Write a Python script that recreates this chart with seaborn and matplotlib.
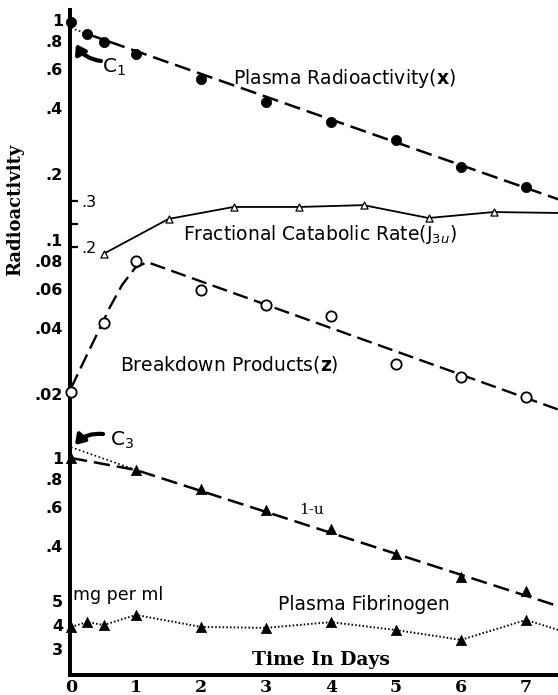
import numpy as np
import pandas as pd
import matplotlib
matplotlib.use("Agg")
import matplotlib.pyplot as plt
from matplotlib.ticker import NullLocator, FixedLocator, FixedFormatter
import seaborn as sns

# ---------------- data ----------------
plasma_days = [0, 0.25, 0.5, 1, 2, 3, 4, 5, 6, 7]
plasma_x = [0.979, 0.864, 0.794, 0.700, 0.539, 0.424, 0.344, 0.285, 0.215, 0.174]
plasma_fit_days = [0.25, 7.5]
plasma_fit = [0.864, 0.153]
c1_days = [0, 0.25]
c1_vals = [0.92, 0.864]

bd_days = [0, 0.5, 1, 2, 3, 4, 5, 6, 7]
bd_z = [0.0204, 0.042, 0.080, 0.0593, 0.0507, 0.045, 0.0273, 0.0238, 0.0193]
bd_curve_days = [0, 0.185, 0.446, 0.6, 0.785, 0.985, 1.17, 7.5]
bd_curve = [0.0212, 0.0276, 0.0398, 0.0496, 0.0624, 0.0746, 0.0794, 0.01694]

fcr_days = [0.5, 1.5, 2.5, 3.5, 4.5, 5.5, 6.5]
fcr = [0.185, 0.261, 0.287, 0.287, 0.291, 0.263, 0.276]
fcr_line_days = [0.5, 1.5, 2.5, 3.5, 4.5, 5.5, 6.5, 7.5]
fcr_line = [0.185, 0.261, 0.287, 0.287, 0.291, 0.263, 0.276, 0.274]

u_days = [0, 1, 2, 3, 4, 5, 6, 7]
one_minus_u = [1.0, 0.882, 0.723, 0.58, 0.475, 0.366, 0.288, 0.248]
u_fit_days = [0, 1, 7.5]
u_fit = [1.0, 0.882, 0.212]
c3_days = [0, 1]
c3_vals = [1.12, 0.882]

fib_days = [0, 0.25, 0.5, 1, 2, 3, 4, 5, 6, 7]
fib = [3.92, 4.12, 4.0, 4.42, 3.92, 3.88, 4.12, 3.79, 3.38, 4.21]
fib_line_days = [0, 0.25, 0.5, 1, 2, 3, 4, 5, 6, 7, 7.5]
fib_line = [3.92, 4.12, 4.0, 4.42, 3.92, 3.88, 4.12, 3.79, 3.38, 4.21, 3.79]

x_ticks = [0, 1, 2, 3, 4, 5, 6, 7]
top_ticks = [1, 0.8, 0.6, 0.4, 0.2, 0.1, 0.08, 0.06, 0.04, 0.02]
top_labels = ["1", ".8", ".6", ".4", ".2", ".1", ".08", ".06", ".04", ".02"]
low_ticks = [1, 0.8, 0.6, 0.4]
low_labels = ["1", ".8", ".6", ".4"]
fcr_ticks = [0.3, 0.25, 0.2]
fcr_labels = [".3", "", ".2"]
fib_ticks = [5, 4, 3]
fib_labels = ["5", "4", "3"]

# ---------------- layout ----------------
sns.set_style("white")
plt.rcParams["font.family"] = ["DejaVu Sans"]
plt.rcParams.update({"text.color": "black", "xtick.color": "black",
                     "ytick.color": "black", "axes.labelcolor": "black"})
W, H = 558, 695
fig = plt.figure(figsize=(W / 100, H / 100), dpi=100)
L, R, T, B = 70, 558, 10, 675
rect = [L / W, 1 - B / H, (R - L) / W, (B - T) / H]
x0_px, px_day = 71, 65.0
xlim = ((L - x0_px) / px_day, (R - x0_px) / px_day)


def log_lim(y1px, decade):
    return (10 ** (-(B - y1px) / decade), 10 ** ((y1px - T) / decade))


def lin_lim(v, yv, per):
    return (v - (B - yv) / per, v + (yv - T) / per)


def fp(x, y):
    return (x / W, 1 - y / H)


base = fig.add_axes(rect)
base.set_xlim(*xlim)
base.set_ylim(0, 1)
for s in ["top", "right"]:
    base.spines[s].set_visible(False)
for s in ["left", "bottom"]:
    base.spines[s].set_linewidth(2.9)
    base.spines[s].set_color("black")
base.set_yticks([])
base.set_xticks(x_ticks)
base.set_xticklabels([str(v) for v in x_ticks], fontfamily="DejaVu Serif",
                     fontweight="bold", fontsize=12.5, color="black")
base.tick_params(axis="x", length=0, pad=3, labelcolor="black")


def overlay():
    a = fig.add_axes(rect)
    a.patch.set_visible(False)
    for s in a.spines.values():
        s.set_visible(False)
    a.set_xlim(*xlim)
    a.tick_params(axis="x", which="both", bottom=False, labelbottom=False)
    return a


ax_top = overlay()
ax_top.set_yscale("log")
ax_top.set_ylim(*log_lim(20, 220))
ax_fcr = overlay()
ax_fcr.set_ylim(*lin_lim(0.3, 201, 460))
ax_low = overlay()
ax_low.set_yscale("log")
ax_low.set_ylim(*log_lim(458, 220))
ax_fib = overlay()
ax_fib.set_ylim(*lin_lim(4, 625, 24))

for a, tk, lb in [(ax_top, top_ticks, top_labels), (ax_low, low_ticks, low_labels),
                  (ax_fib, fib_ticks, fib_labels)]:
    a.yaxis.set_major_locator(FixedLocator(tk))
    a.yaxis.set_major_formatter(FixedFormatter(lb))
    a.yaxis.set_minor_locator(NullLocator())
    a.tick_params(axis="y", which="both", length=0, pad=5, labelsize=11.5,
                  labelcolor="black")
    for t in a.get_yticklabels():
        t.set_fontweight("bold")

ax_fcr.yaxis.set_major_locator(FixedLocator(fcr_ticks))
ax_fcr.yaxis.set_major_formatter(FixedFormatter(fcr_labels))
ax_fcr.yaxis.set_minor_locator(NullLocator())
ax_fcr.tick_params(axis="y", left=True, direction="in", length=6, width=1.6,
                   color="black", labelcolor="black", pad=-8, labelsize=11.5)
for t in ax_fcr.get_yticklabels():
    t.set_horizontalalignment("left")

# ---------------- series ----------------
dash = (0, (6.5, 2.8))
# Plasma radioactivity (x)
sns.lineplot(x=plasma_fit_days, y=plasma_fit, ax=ax_top, color="black", lw=1.8,
             linestyle=dash, estimator=None, sort=False)
sns.lineplot(x=c1_days, y=c1_vals, ax=ax_top, color="black", lw=1.2,
             linestyle=(0, (1, 1.5)), estimator=None, sort=False)
sns.scatterplot(x=plasma_days, y=plasma_x, ax=ax_top, color="black", s=55,
                marker="o", edgecolor="black", linewidth=0.5, zorder=5, clip_on=False)

# Breakdown products (z)
sns.lineplot(x=bd_curve_days, y=bd_curve, ax=ax_top, color="black", lw=1.7,
             linestyle=dash, estimator=None, sort=False)
sns.scatterplot(x=bd_days, y=bd_z, ax=ax_top, color="white", s=55, marker="o",
                edgecolor="black", linewidth=1.3, zorder=5, clip_on=False)

# Fractional catabolic rate
sns.lineplot(x=fcr_line_days, y=fcr_line, ax=ax_fcr, color="black", lw=1.3,
             estimator=None, sort=False)
sns.scatterplot(x=fcr_days, y=fcr, ax=ax_fcr, color="white", s=26, marker="^",
                edgecolor="black", linewidth=0.9, zorder=5)

# 1-u
sns.lineplot(x=u_fit_days, y=u_fit, ax=ax_low, color="black", lw=1.8,
             linestyle=dash, estimator=None, sort=False)
sns.lineplot(x=c3_days, y=c3_vals, ax=ax_low, color="black", lw=1.2,
             linestyle=(0, (1, 1.5)), estimator=None, sort=False)
sns.scatterplot(x=u_days, y=one_minus_u, ax=ax_low, color="black", s=55, marker="^",
                edgecolor="black", linewidth=0.5, zorder=5, clip_on=False)

# Plasma fibrinogen
sns.lineplot(x=fib_line_days, y=fib_line, ax=ax_fib, color="black", lw=1.4,
             linestyle=(0, (0.8, 1.1)), estimator=None, sort=False)
sns.scatterplot(x=fib_days, y=fib, ax=ax_fib, color="black", s=55, marker="^",
                edgecolor="black", linewidth=0.5, zorder=5, clip_on=False)

for a in [ax_top, ax_fcr, ax_low, ax_fib]:
    a.set_xlabel("")
    a.set_ylabel("")
    lg = a.get_legend()
    if lg:
        lg.remove()

# ---------------- text ----------------
lab = dict(fontsize=13.5, color="black", ha="left", va="center", fontfamily="DejaVu Sans")
fig.text(*fp(233, 78), r"Plasma Radioactivity($\mathbf{x}$)", **lab)
fig.text(*fp(183, 234), r"Fractional Catabolic Rate(J$_{3u}$)", **lab)
fig.text(*fp(120, 364), r"Breakdown Products($\mathbf{z}$)", **lab)
fig.text(*fp(312, 510), "1-u", fontsize=11, fontfamily="DejaVu Serif", ha="center", va="center")
fig.text(*fp(73, 595), "mg per ml", fontsize=12.5, ha="left", va="center")
fig.text(*fp(278, 605), "Plasma Fibrinogen", **lab)
fig.text(*fp(321, 660), "Time In Days", fontsize=13.5, fontfamily="DejaVu Serif",
         fontweight="bold", ha="center", va="center")
fig.text(*fp(15, 210), "Radioactivity", fontsize=13, fontfamily="DejaVu Serif",
         fontweight="bold", rotation=90, ha="center", va="center")

fig.text(*fp(102, 67), r"C$_1$", fontsize=14.5, ha="left", va="center")
fig.text(*fp(110, 440), r"C$_3$", fontsize=14.5, ha="left", va="center")

arrow = dict(arrowstyle="-|>,head_length=0.45,head_width=0.3", color="black", lw=3.0,
             shrinkA=0, shrinkB=0, mutation_scale=12)
base.annotate("", xy=fp(76, 44), xytext=fp(101, 61), xycoords="figure fraction",
              textcoords="figure fraction",
              arrowprops=dict(connectionstyle="arc3,rad=-0.25", **arrow))
base.annotate("", xy=fp(75, 445), xytext=fp(103, 434), xycoords="figure fraction",
              textcoords="figure fraction",
              arrowprops=dict(connectionstyle="arc3,rad=0.25", **arrow))

fig.savefig("out.png", dpi=100)
